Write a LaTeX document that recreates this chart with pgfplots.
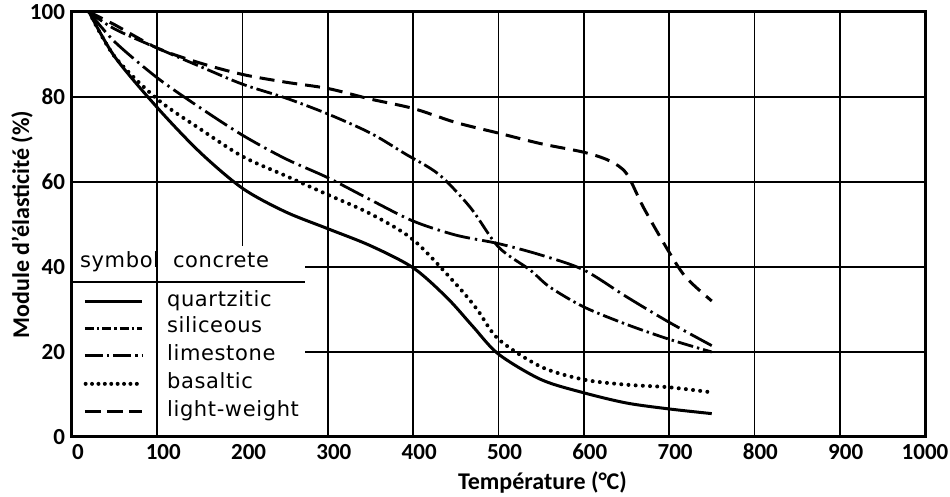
\documentclass[border=0pt]{standalone}
\usepackage{fontspec}
\setmainfont{Carlito}
\newfontfamily\legfont[LetterSpace=3]{DejaVu Sans}
\usepackage{pgfplots}
\pgfplotsset{compat=1.18}

\tikzset{
  quartz/.style={line width=1.5pt},
  silic/.style={line width=1.4pt, dash pattern=on 8pt off 2pt on 1.2pt off 2pt},
  limes/.style={line width=1.4pt, dash pattern=on 13pt off 2.5pt on 1.2pt off 2.5pt},
  basal/.style={line width=2pt, line cap=round, dash pattern=on 0pt off 3.6pt},
  light/.style={line width=1.5pt, dash pattern=on 7.5pt off 4pt},
}

\begin{document}
\begin{tikzpicture}
\path[use as bounding box] (-36pt,-30pt) rectangle (439pt,218.5pt);
\begin{axis}[
  scale only axis, width=426.5pt, height=212.5pt,
  xmin=0, xmax=1000, ymin=0, ymax=100,
  xtick={0,100,...,900}, ytick={0,20,...,100},
  extra x ticks={1000},
  extra x tick style={xticklabel style={xshift=-3pt}},
  grid=major, major grid style={black, line width=0.9pt},
  axis line style={line width=1.5pt},
  major tick length=0pt,
  tick label style={font=\fontsize{11.5}{12}\selectfont\bfseries},
  /pgf/number format/assume math mode=true,
  /pgf/number format/1000 sep={},
  xticklabel style={xshift=3pt},
  xlabel={Température (°C)},
  ylabel={Module d’élasticité (\%)},
  label style={font=\fontsize{12}{14}\selectfont\bfseries},
  xlabel style={at={(axis description cs:0.5516,-0.1082)}, anchor=center},
  ylabel style={at={(axis description cs:-0.0586,0.5)}, anchor=center},
]
% quartzitic
\addplot[quartz, smooth, tension=0.5] coordinates {
(20,100)(50,89.5)(100,77.5)(150,67)(200,58.5)(250,53)(300,49)(350,45)(400,39.8)
(440,32.7)(470,26)(500,19.5)(550,13.5)(600,10.4)(650,8)(700,6.6)(750,5.5)};
% siliceous
\addplot[silic, smooth, tension=0.5] coordinates {
(20,100)(50,96)(100,91.5)(150,87.2)(200,83)(250,79.8)(300,76)(350,71.5)(390,66.7)
(430,61.8)(467,54)(500,44.7)(537,39.3)(560,35.3)(600,30.6)(650,26.5)(700,23)(750,20)};
% limestone
\addplot[limes, smooth, tension=0.5] coordinates {
(20,100)(50,93)(100,84.5)(150,77.5)(200,71)(250,65.5)(300,61)(350,55.8)(400,50.8)
(450,47.5)(500,45.5)(550,42.8)(600,39.3)(650,33)(700,27)(750,21.5)};
% basaltic
\addplot[basal, smooth, tension=0.5] coordinates {
(20,100)(50,89.5)(100,79.5)(150,72.5)(200,66)(250,61.5)(300,57)(350,52.5)(400,46.4)
(450,36)(475,30)(500,23)(550,16.5)(600,13.5)(650,12.3)(700,11.7)(750,10.5)};
% light-weight
\addplot[light, smooth, tension=0.5] coordinates {
(20,100)(50,97)(100,91.5)(150,88)(200,85.3)(250,83.5)(300,82)(350,79.5)(400,77.3)
(450,74)(500,71.5)(550,69)(600,67)(630,65)(650,62)(670,54)(700,43.5)(720,37.5)(750,32)};

% legend table
\fill[white] (axis cs:0,0) rectangle (axis cs:273,45);
\draw[line width=0.9pt] (axis cs:100,0) -- (axis cs:100,45);
\draw[line width=0.9pt] (axis cs:0,36.5) -- (axis cs:273,36.5);
\draw[line width=1.5pt] (rel axis cs:0,0) rectangle (rel axis cs:1,1);
\begin{scope}[every node/.style={anchor=mid west, inner sep=0pt, font=\legfont\fontsize{10.5}{12}\selectfont}]
\node at (axis cs:9,40.9) {symbol};
\node at (axis cs:118,40.9) {concrete};
\node at (axis cs:111,31.8) {quartzitic};
\node at (axis cs:111,25.6) {siliceous};
\node at (axis cs:111,19.1) {limestone};
\node at (axis cs:111,12.5) {basaltic};
\node at (axis cs:111,5.9) {light-weight};
\end{scope}
\draw[quartz] (axis cs:15,31.8) -- (axis cs:82,31.8);
\draw[line width=1.5pt, dash pattern=on 4.5pt off 1.5pt on 1.2pt off 1.5pt] (axis cs:15,25.6) -- (axis cs:82,25.6);
\draw[line width=1.5pt, dash pattern=on 9pt off 2pt on 1.2pt off 2pt] (axis cs:15,19.1) -- (axis cs:82,19.1);
\draw[basal, dash pattern=on 0pt off 3.2pt] (axis cs:16,12.5) -- (axis cs:82,12.5);
\draw[line width=1.5pt, dash pattern=on 8pt off 3pt] (axis cs:15,5.9) -- (axis cs:82,5.9);
\end{axis}
\end{tikzpicture}
\end{document}
